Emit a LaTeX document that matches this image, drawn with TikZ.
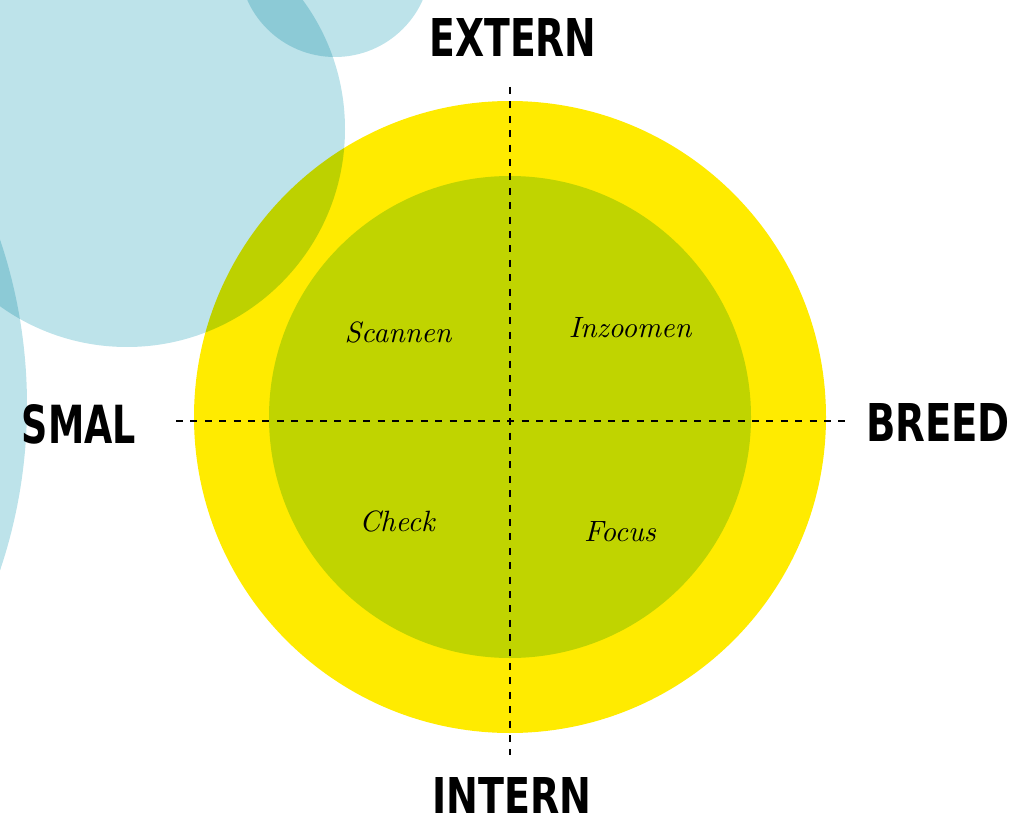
\documentclass[tikz,border=0pt]{standalone}
\usepackage{fontspec}
\usepackage{graphicx}
\newfontfamily\axisfont{DejaVu Sans Condensed}
\newfontfamily\quadfont{lmroman10-italic}[Extension=.otf]
\definecolor{ringyellow}{RGB}{255,235,0}
\definecolor{coregreen}{RGB}{192,212,0}
\definecolor{skyblue}{RGB}{189,227,234}
\begin{document}
\begin{tikzpicture}[x=1bp,y=-1bp,
  axislabel/.style={font=\axisfont\bfseries, inner sep=0pt},
  quadlabel/.style={font=\quadfont\fontsize{29.5}{31}\selectfont, inner sep=0pt},
  axisline/.style={line width=2.8bp, dash pattern=on 7bp off 7.4bp}]
\useasboundingbox (0,0) rectangle (1013,822);
\begin{scope}
  \clip (0,0) rectangle (1013,822);
  % outer ring
  \fill[ringyellow] (510,417) circle[radius=316];
  % translucent bubbles, multiplied onto whatever lies below
  \begin{scope}[blend mode=multiply]
    \fill[skyblue] (127,129) circle[radius=218];
    \fill[skyblue] (335,-39) circle[radius=96];
    \fill[skyblue] (-491,405) circle[radius=518];
  \end{scope}
  % inner disc
  \fill[coregreen] (510,417) circle[radius=241];
\end{scope}

% axes
\coordinate (top) at (510,87);
\coordinate (bottom) at (510,755);
\coordinate (left) at (176,421);
\coordinate (right) at (845,421);
\draw[axisline] (top) -- (bottom);
\draw[axisline] (left) -- (right);

% axis labels
\node[axislabel] (extern) at (513,37) {\resizebox{167bp}{38bp}{EXTERN}};
\node[axislabel] (intern) at (512,795) {\resizebox{159bp}{36bp}{INTERN}};
\node[axislabel] (smal)   at (79,424)  {\resizebox{114bp}{39bp}{SMAL}};
\node[axislabel] (breed)  at (938,422) {\resizebox{144bp}{38bp}{BREED}};

% quadrant labels
\node[quadlabel] (scannen)  at (398,332) {Scannen};
\node[quadlabel] (inzoomen) at (630,328) {Inzoomen};
\node[quadlabel] (check)    at (397,521) {Check};
\node[quadlabel] (focus)    at (620,532) {Focus};
\end{tikzpicture}
\end{document}
